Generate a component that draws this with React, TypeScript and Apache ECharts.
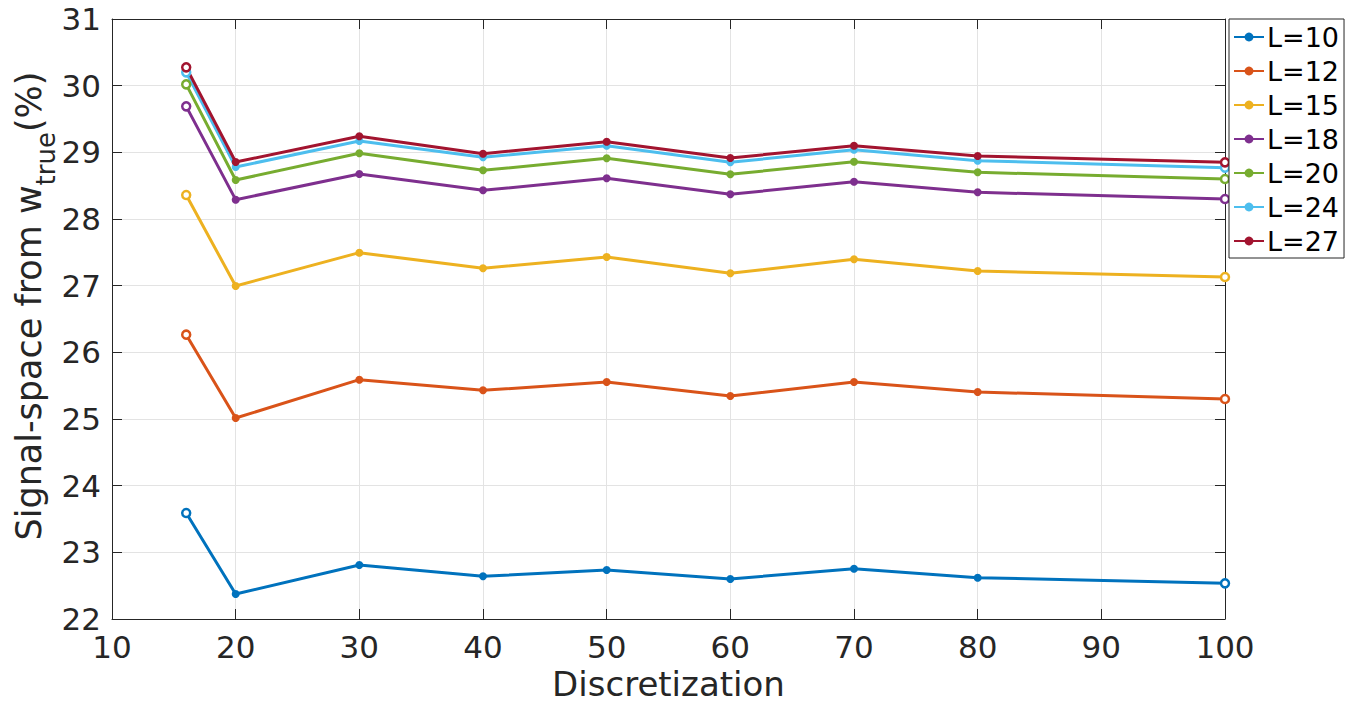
import React, { useEffect, useRef } from "react";
import * as echarts from "echarts";

const xValues = [16, 20, 30, 40, 50, 60, 70, 80, 100];
const seriesNames = ["L=10", "L=12", "L=15", "L=18", "L=20", "L=24", "L=27"];
const L10 = [23.59, 22.375, 22.81, 22.64, 22.735, 22.6, 22.755, 22.62, 22.535];
const L12 = [26.265, 25.015, 25.59, 25.43, 25.555, 25.345, 25.555, 25.405, 25.3];
const L15 = [28.36, 26.995, 27.495, 27.26, 27.43, 27.185, 27.395, 27.22, 27.13];
const L18 = [29.69, 28.29, 28.675, 28.43, 28.61, 28.37, 28.56, 28.4, 28.3];
const L20 = [30.02, 28.585, 28.985, 28.73, 28.91, 28.67, 28.86, 28.7, 28.6];
const L24 = [30.2, 28.78, 29.17, 28.925, 29.1, 28.85, 29.04, 28.875, 28.77];
const L27 = [30.275, 28.855, 29.24, 28.98, 29.16, 28.915, 29.1, 28.945, 28.85];
const allValues = [L10, L12, L15, L18, L20, L24, L27];
const colors = ["#0072BD", "#D95319", "#EDB120", "#7E2F8E", "#77AC30", "#4DBEEE", "#A2142F"];

const FONT = "DejaVu Sans";
const AX = "#262626";

export default function App() {
  const ref = useRef<HTMLDivElement>(null);
  useEffect(() => {
    if (!ref.current) return;
    const chart = echarts.init(ref.current, undefined, { renderer: "svg" });
    const series = allValues.map((vals, si) => ({
      name: seriesNames[si],
      type: "line",
      color: colors[si],
      symbol: "circle",
      symbolSize: 8,
      lineStyle: { width: 3, color: colors[si] },
      itemStyle: { color: colors[si] },
      xAxisIndex: 0,
      yAxisIndex: 0,
      data: vals.map((v, i) => {
        const end = i === 0 || i === vals.length - 1;
        return end
          ? { value: [xValues[i], v], symbol: "circle", itemStyle: { color: "#fff", borderColor: colors[si], borderWidth: 2.5 } }
          : { value: [xValues[i], v] };
      }),
    }));
    const baseTick = { show: true, inside: true, length: 10, lineStyle: { color: AX, width: 1 } };
    chart.setOption({
      animation: false,
      backgroundColor: "#fff",
      textStyle: { fontFamily: FONT },
      grid: { left: 112, right: 134, top: 19, bottom: 87, show: false },
      legend: {
        orient: "vertical",
        left: 1229,
        top: 19,
        padding: [3, 5, 2, 4],
        itemGap: 4,
        itemWidth: 30,
        itemHeight: 11,
        backgroundColor: "#fff",
        borderColor: AX,
        borderWidth: 1,
        textStyle: { fontFamily: FONT, fontSize: 27, color: "#000", lineHeight: 30, padding: [0, 0, 0, -2] },
        data: seriesNames,
      },
      xAxis: [
        {
          type: "value",
          min: 10,
          max: 100,
          interval: 10,
          position: "bottom",
          name: "Discretization",
          nameLocation: "middle",
          nameGap: 47,
          nameTextStyle: { fontFamily: FONT, fontSize: 34, color: AX },
          axisLine: { show: true, onZero: false, lineStyle: { color: AX, width: 1 } },
          axisTick: baseTick,
          axisLabel: { fontFamily: FONT, fontSize: 31, color: AX, margin: 12 },
          splitLine: { show: true, lineStyle: { color: "#e3e3e3", width: 1 } },
        },
        {
          type: "value",
          min: 10,
          max: 100,
          interval: 10,
          position: "top",
          axisLine: { show: true, onZero: false, lineStyle: { color: AX, width: 1 } },
          axisTick: baseTick,
          axisLabel: { show: false },
          splitLine: { show: false },
        },
      ],
      yAxis: [
        {
          type: "value",
          min: 22,
          max: 31,
          interval: 1,
          position: "left",
          axisLine: { show: true, onZero: false, lineStyle: { color: AX, width: 1 } },
          axisTick: baseTick,
          axisLabel: { fontFamily: FONT, fontSize: 31, color: AX, margin: 11 },
          splitLine: { show: true, lineStyle: { color: "#e3e3e3", width: 1 } },
        },
        {
          type: "value",
          min: 22,
          max: 31,
          interval: 1,
          position: "right",
          axisLine: { show: true, onZero: false, lineStyle: { color: AX, width: 1 } },
          axisTick: baseTick,
          axisLabel: { show: false },
          splitLine: { show: false },
        },
      ],
      graphic: [
        {
          type: "text",
          x: 29,
          y: 306,
          rotation: Math.PI / 2,
          style: {
            text: "{a|Signal-space from w}{b|true}{a|(%)}",
            align: "center",
            verticalAlign: "middle",
            fill: AX,
            rich: {
              a: { fontFamily: FONT, fontSize: 35, lineHeight: 35, verticalAlign: "top", fill: AX },
              b: { fontFamily: FONT, fontSize: 26, lineHeight: 26, verticalAlign: "top", padding: [21, 0, 0, 0], fill: AX },
            },
          },
        },
      ],
      series,
    });
    return () => chart.dispose();
  }, []);
  return <div ref={ref} style={{ position: "absolute", left: 0, top: 0, width: 1359, height: 706 }} />;
}
